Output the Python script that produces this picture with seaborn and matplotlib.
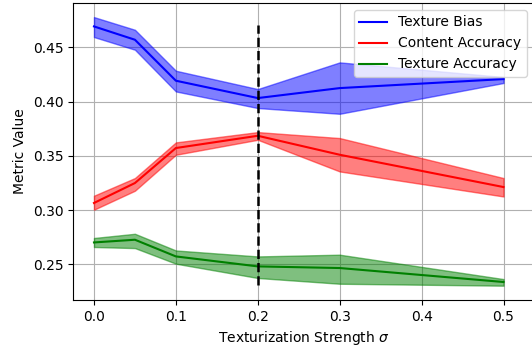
import pandas as pd
import numpy as np
import seaborn as sns
import matplotlib.pyplot as plt

# strengths
sigma = [0.0, 0.05, 0.1, 0.2, 0.3, 0.5]

# texture bias: mean and band
bias_mean = [0.4694, 0.4571, 0.4193, 0.4033, 0.4125, 0.4208]
bias_low = [0.4596, 0.4479, 0.4094, 0.3941, 0.3888, 0.4172]
bias_high = [0.4780, 0.4663, 0.4285, 0.4116, 0.4362, 0.4227]

# content accuracy
content_mean = [0.3065, 0.3249, 0.3572, 0.3685, 0.3510, 0.3212]
content_low = [0.3003, 0.3178, 0.3510, 0.3648, 0.3356, 0.3125]
content_high = [0.3132, 0.3295, 0.3624, 0.3719, 0.3664, 0.3295]

# texture accuracy
texacc_mean = [0.2701, 0.2726, 0.2572, 0.2480, 0.2465, 0.2336]
texacc_low = [0.2659, 0.2649, 0.2505, 0.2373, 0.2320, 0.2302]
texacc_high = [0.2742, 0.2781, 0.2627, 0.2572, 0.2588, 0.2363]

series_names = ['Texture Bias', 'Content Accuracy', 'Texture Accuracy']
series_colors = ['blue', 'red', 'green']

df = pd.DataFrame({
    'sigma': sigma * 3,
    'value': bias_mean + content_mean + texacc_mean,
    'metric': np.repeat(series_names, len(sigma)),
})
bands = [(bias_low, bias_high), (content_low, content_high), (texacc_low, texacc_high)]

fig = plt.figure(figsize=(5.32, 3.47), dpi=100)
# right spine falls just outside the picture, like the reference crop
ax = fig.add_axes([73 / 532, 47 / 347, 461 / 532, 297 / 347])

sns.lineplot(data=df, x='sigma', y='value', hue='metric', palette=series_colors,
             hue_order=series_names, linewidth=1.5, ax=ax)
for (lo, hi), c in zip(bands, series_colors):
    ax.fill_between(sigma, lo, hi, color=c, alpha=0.5)

ax.vlines(0.2, 0.231, 0.471, colors='black', linestyles='--', linewidth=1.8, zorder=5)

ax.set_xlim(-0.0256, 0.5372)
ax.set_ylim(0.217, 0.491)
ax.set_xticks([0.0, 0.1, 0.2, 0.3, 0.4, 0.5])
ax.set_yticks([0.25, 0.30, 0.35, 0.40, 0.45])
ax.grid(True, color='#b0b0b0', linewidth=0.8)
ax.set_axisbelow(True)
ax.set_xlabel('Texturization Strength $\\sigma$')
ax.set_ylabel('Metric Value')
ax.legend(loc='upper right', title=None)

fig.savefig('out.png', dpi=100)
